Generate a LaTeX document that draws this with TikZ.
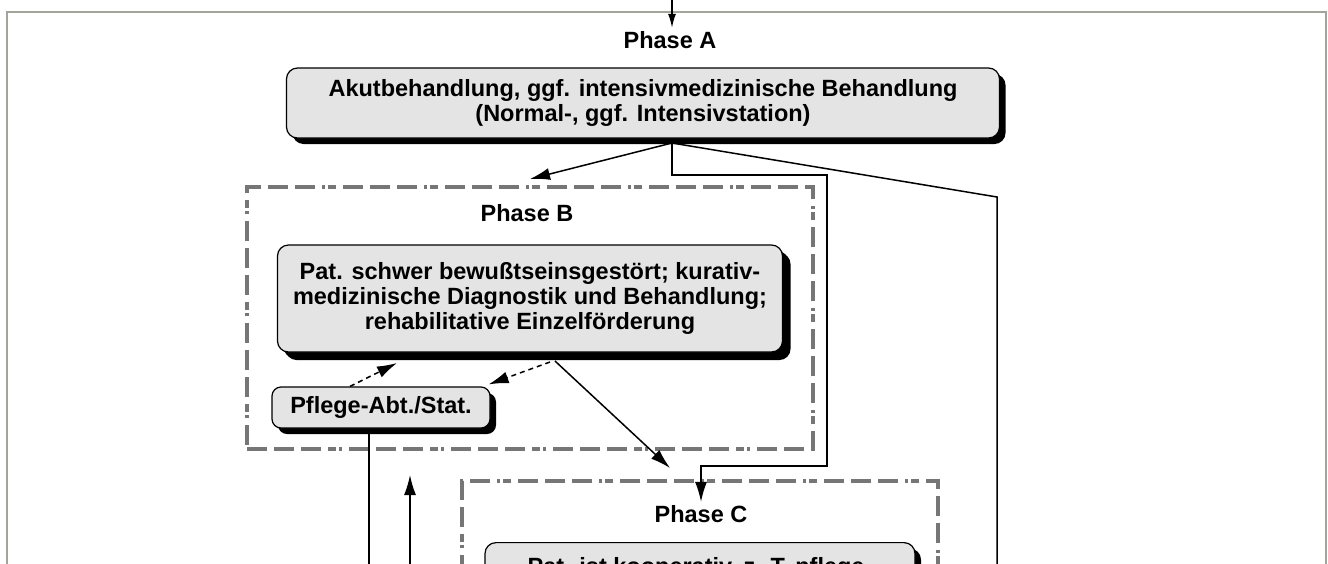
\documentclass[tikz,border=0pt]{standalone}
\usepackage{fontspec}
\setmainfont{Liberation Sans}
\usetikzlibrary{arrows.meta,shadows}
\definecolor{boxgray}{HTML}{E4E4E4}
\definecolor{framegray}{HTML}{767676}
\definecolor{pagegray}{HTML}{A4A49C}
\tikzset{
    box/.style={draw, line width=1.2pt, rounded corners=11pt, fill=boxgray,
                inner sep=4pt, align=center,
                drop shadow={shadow xshift=6pt, shadow yshift=-6pt,
                             fill=black, opacity=1}},
    phase/.style={font=\bfseries\fontsize{23.5}{25}\selectfont},
    phase frame/.style={draw=framegray, line width=4pt,
                dash pattern=on 20pt off 7pt on 20pt off 7pt on 20pt off 7pt on 8pt off 3pt on 3pt off 7pt},
    flow/.style={-{Latex[length=20pt,width=12pt]}, line width=1.5pt},
    feedback/.style={flow, dashed, dash pattern=on 5pt off 4pt},
    line/.style={line width=1.5pt},
}
\newcommand{\phasecanvas}{
    \clip (0,0) rectangle (1328,563);
    \fill[white] (0,0) rectangle (1328,563);
    \draw[pagegray, line width=1.6pt] (7,600) -- (7,12) -- (1326,12) -- (1326,600);
}

\begin{document}
\begin{tikzpicture}[x=1pt, y=-1pt, phase]
    \phasecanvas

    % Phase A
    \node (phaseA) at (670,40) {Phase A};
    \coordinate (entry) at (672,0);
    \draw[flow, -{Latex[length=14pt,width=8pt]}] (entry) -- (phaseA.north -| entry);
    \node[box, minimum width=713pt, minimum height=70pt] (acute) at (643,103)
        {Akutbehandlung, ggf. intensivmedizinische Behandlung\\(Normal-, ggf. Intensivstation)};
    \coordinate (split) at (672,143);

    % Phase B
    \node[phase frame, minimum width=566pt, minimum height=262pt] (frameB) at (530,318) {};
    \node (phaseB) at (527,213) {Phase B};
    \node[box, minimum width=505pt, minimum height=107pt,
          drop shadow={shadow xshift=8pt, shadow yshift=-8pt, fill=black, opacity=1}] (severe) at (530,298.5)
        {Pat. schwer bewußtseinsgestört; kurativ-\\medizinische Diagnostik und Behandlung;\\rehabilitative Einzelförderung};
    \node[box, rounded corners=9pt, minimum width=218pt, minimum height=41pt] (care) at (381,407.5)
        {Pflege-Abt./Stat.};

    % Phase C
    \node[phase frame, minimum width=476pt, minimum height=300pt] (frameC) at (700,631) {};
    \node (phaseC) at (701,514) {Phase C};
    \node[box, anchor=north, minimum width=430pt, minimum height=80pt,
          text height=23pt, text depth=40pt] (coop) at (700,542)
        {Pat. ist kooperativ, z. T. pflege-};

    % connectors
    \coordinate (bentry) at (530,179);
    \coordinate (cornerA) at (827,175);
    \coordinate (cornerC) at (827,466);
    \coordinate (farright) at (997,197);
    \draw[flow] (split) -- (bentry);
    \draw[flow] (split) |- (cornerA) -- (cornerC) -| (phaseC.north);
    \draw[line] (split) -- (farright) -- (997,600);

    \draw[feedback] ([xshift=-31pt]care.north) -- (397,363);
    \draw[feedback] (550,362) -- ([xshift=-2pt,yshift=2pt]care.north east);
    \draw[flow] (555,361) -- (670,468);
    \draw[line] ([xshift=-12pt]care.south) -- (369,600);
    \draw[flow] (410,600) -- (410,475);

\end{tikzpicture}
\end{document}
